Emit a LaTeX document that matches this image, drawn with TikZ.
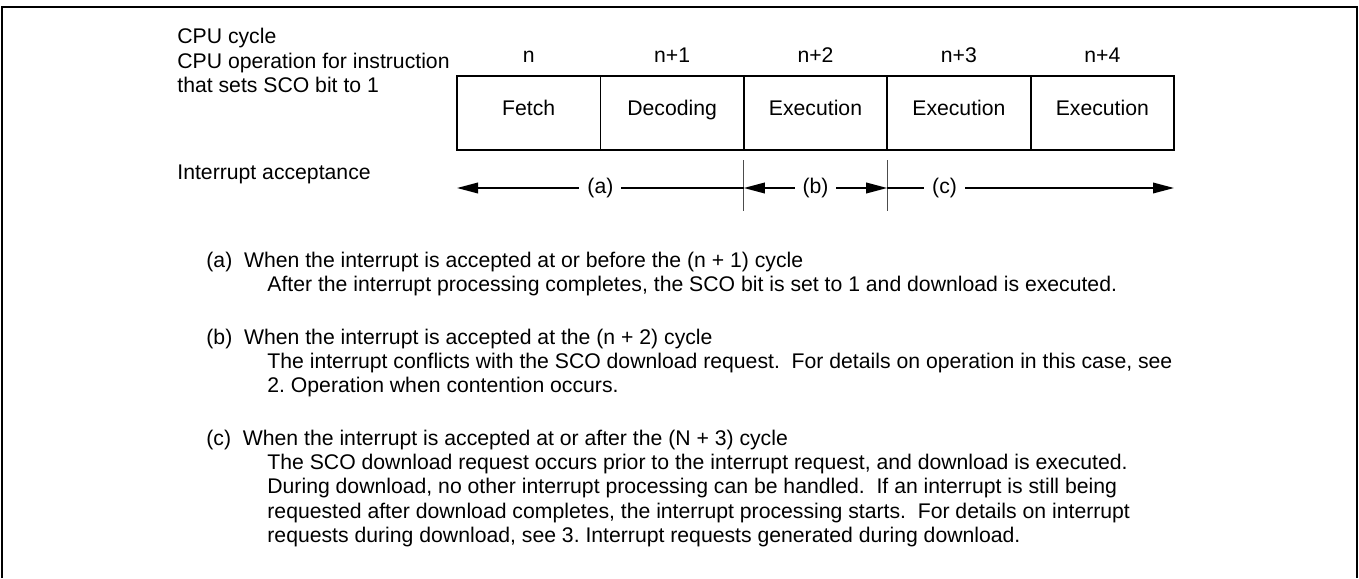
\documentclass[tikz,border=0pt]{standalone}
\usepackage{fontspec}
\setmainfont{Liberation Sans}
\usetikzlibrary{positioning,arrows.meta,calc}
\newcommand\figfont{\fontsize{10.6pt}{12.25pt}\selectfont}
\frenchspacing
\tikzset{
  cell/.style={draw, line width=0.9pt, minimum width=71.7pt, minimum height=37pt,
               inner sep=0pt, outer sep=0pt, text height=7pt, text depth=5pt},
  cyc/.style={anchor=base, inner sep=0pt},
  lbl/.style={anchor=base west, inner sep=0pt, align=left},
  tag/.style={fill=white, inner xsep=4pt, inner ysep=1pt},
  acc/.style={-{Triangle[length=10.5pt,width=5.3pt]}, line width=0.8pt},
  both/.style={{Triangle[length=10.5pt,width=5.3pt]}-{Triangle[length=10.5pt,width=5.3pt]}},
  tick/.style={draw=black!70, line width=0.5pt},
  frame/.style={line width=1.3pt},
}
\begin{document}
\begin{tikzpicture}[x=0.5pt, y=-0.5pt, font=\figfont]
\useasboundingbox (0,0) rectangle (1359,578);
\draw[frame] (2,578) -- (2,7) -- (1357,7) -- (1357,578);
% operation row
\node[cell] (fetch) at (528.7,113) {Fetch};
\node[cell, right=0pt of fetch] (decode) {Decoding};
\node[cell, right=0pt of decode] (exec1) {Execution};
\node[cell, right=0pt of exec1] (exec2) {Execution};
\node[cell, right=0pt of exec2] (exec3) {Execution};
\foreach \c/\t in {fetch/n, decode/n+1, exec1/n+2, exec2/n+3, exec3/n+4}
  \node[cyc] (cyc-\c) at ($(\c.north)+(0,-14)$) {\t};
% base of a multi-line label = its last line
\node[lbl] (cyclbl) at (177,43) {CPU cycle};
\node[lbl] (oplbl) at (177,92.5) {CPU operation for instruction\\that sets SCO bit to 1};
\node[lbl] (acclbl) at (177,179) {Interrupt acceptance};
% acceptance ranges
\coordinate (row) at (0,188);
\foreach \c in {exec1,exec2}
  \draw[tick] ($(\c.south west)+(0,10)$) -- ($(\c.south west)+(0,61)$);
\draw[acc] (exec1.south west |- row) -- node[tag] {(a)} (fetch.south west |- row);
\draw[acc, both] (exec1.south west |- row) -- node[tag] {(b)} (exec2.south west |- row);
\draw[acc] (exec2.south west |- row) -- node[tag, pos=0.2] {(c)} (exec3.south east |- row);
% notes
\node[lbl] (nota) at (206,267) {(a)\ \ When the interrupt is accepted at or before the (n + 1) cycle};
\node[lbl] (notabody) at (267,291) {After the interrupt processing completes, the SCO bit is set to 1 and download is executed.};
\node[lbl] (notb) at (206,344) {(b)\ \ When the interrupt is accepted at the (n + 2) cycle};
\node[lbl] (notbbody) at (267,392.5) {The interrupt conflicts with the SCO download request.\ \ For details on operation in this case, see\\
  2. Operation when contention occurs.};
\node[lbl] (notc) at (206,445) {(c)\ \ When the interrupt is accepted at or after the (N + 3) cycle};
\node[lbl] (notcbody) at (267,542.5) {The SCO download request occurs prior to the interrupt request, and download is executed.\\
  During download, no other interrupt processing can be handled.\ \ If an interrupt is still being\\
  requested after download completes, the interrupt processing starts.\ \ For details on interrupt\\
  requests during download, see 3. Interrupt requests generated during download.};
\end{tikzpicture}
\end{document}
